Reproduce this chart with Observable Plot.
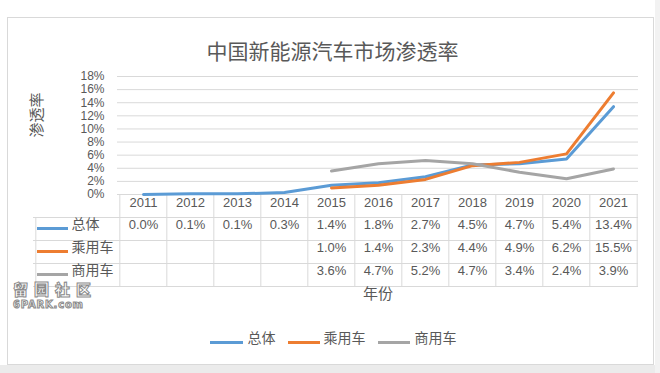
<!DOCTYPE html>
<html><head><meta charset="utf-8">
<script src="https://cdn.jsdelivr.net/npm/d3@7"></script>
<script src="https://cdn.jsdelivr.net/npm/@observablehq/plot@0.6"></script>
<style>
html,body{margin:0;padding:0;background:#fff;}
#wrap{position:relative;width:660px;height:373px;overflow:hidden;background:#fff;}
#frame{position:absolute;left:7px;top:17px;width:645px;height:346px;border:1px solid #D9D9D9;pointer-events:none;}
#stripB{position:absolute;left:0;top:365px;width:660px;height:8px;background:#EBEBEB;}
#stripR{position:absolute;left:655px;top:0;width:5px;height:373px;background:#F2F2F2;}
#wm{position:absolute;left:13px;top:281px;font-family:"Noto Sans CJK SC",sans-serif;color:#fff;-webkit-text-stroke:1px #8a8a8a;line-height:1;}
#wm .a{font-size:15px;letter-spacing:6px;font-weight:900;}
#wm .b{font-size:10px;font-weight:900;font-family:"DejaVu Sans",sans-serif;letter-spacing:0.8px;margin-top:4px;}
</style></head><body>
<div id="wrap"><div id="chart"></div><div id="wm"><div class="a">留园社区</div><div class="b">6PARK.com</div></div><div id="frame"></div><div id="stripB"></div><div id="stripR"></div></div>
<script>
const years = [2011, 2012, 2013, 2014, 2015, 2016, 2017, 2018, 2019, 2020, 2021];
const totalValues = [0.0, 0.1, 0.1, 0.3, 1.4, 1.8, 2.7, 4.5, 4.7, 5.4, 13.4];
const subYears = [2015, 2016, 2017, 2018, 2019, 2020, 2021];
const passengerValues = [1.0, 1.4, 2.3, 4.4, 4.9, 6.2, 15.5];
const commercialValues = [3.6, 4.7, 5.2, 4.7, 3.4, 2.4, 3.9];
const seriesNames = ["总体", "乘用车", "商用车"];
const seriesColors = ["#5B9BD5", "#ED7D31", "#A5A5A5"];
const yTicks = [0, 2, 4, 6, 8, 10, 12, 14, 16, 18];
const titleText = "中国新能源汽车市场渗透率";
const yTitle = "渗透率";
const xTitle = "年份";

const W = 660, H = 373, mL = 117, mR = 22, mT = 76, mB = 179;
const plotW = W - mL - mR;
const step = plotW / years.length;
const frameBottom = H - mB;
const textColor = "#595959";
const gridColor = "#D9D9D9";
const FONT = "'Liberation Sans','Noto Sans CJK SC',sans-serif";

const series = [
  years.map((y, i) => ({year: y, v: totalValues[i]})),
  subYears.map((y, i) => ({year: y, v: passengerValues[i]})),
  subYears.map((y, i) => ({year: y, v: commercialValues[i]}))
];

const rowCenters = [228, 251, 274];
const rowBorders = [217, 240, 263, 286];
const legendItems = [
  {x0: 210, x1: 243, tx: 247},
  {x0: 288, x1: 320, tx: 323},
  {x0: 378, x1: 410, tx: 414}
];
const legendY = 342;

const marks = [];
marks.push(Plot.ruleY(yTicks, {stroke: gridColor}));
rowBorders.forEach(b => marks.push(Plot.ruleY([0], {dy: b - frameBottom, insetLeft: -84, stroke: gridColor})));
marks.push(Plot.ruleX(years, {x: d => d, dx: -step / 2, insetTop: frameBottom - mT, insetBottom: -(rowBorders[3] - frameBottom), stroke: gridColor}));
marks.push(Plot.ruleX([years[years.length - 1]], {x: d => d, dx: step / 2, insetTop: frameBottom - mT, insetBottom: -(rowBorders[3] - frameBottom), stroke: gridColor}));
marks.push(Plot.ruleX([years[0]], {x: d => d, dx: -step / 2 - 84, insetTop: rowBorders[0] - mT, insetBottom: -(rowBorders[3] - frameBottom), stroke: gridColor}));
marks.push(Plot.text(years, {x: d => d, text: d => String(d), frameAnchor: "bottom", dy: 206 - frameBottom, fill: textColor, fontSize: 13}));
series.forEach((s, k) => {
  marks.push(Plot.text(s, {x: "year", text: d => d.v.toFixed(1) + "%", frameAnchor: "bottom", dy: rowCenters[k] - frameBottom, fill: textColor, fontSize: 13}));
  marks.push(Plot.ruleY([0], {dy: rowCenters[k] - frameBottom, insetLeft: 37 - mL, insetRight: (W - mR) - 68, stroke: seriesColors[k], strokeWidth: 3}));
  marks.push(Plot.text([seriesNames[k]], {frameAnchor: "bottom-left", dx: 71 - mL, dy: rowCenters[k] - frameBottom, textAnchor: "start", fill: textColor, fontSize: 14}));
});
series.forEach((s, k) => {
  marks.push(Plot.line(s, {x: "year", y: "v", stroke: seriesColors[k], strokeWidth: 3, strokeLinejoin: "round", strokeLinecap: "round"}));
});
marks.push(Plot.text([titleText], {frameAnchor: "top", dx: 332 - (mL + plotW / 2), dy: 44 - mT, fill: textColor, fontSize: 21}));
marks.push(Plot.text([yTitle], {frameAnchor: "left", dx: 37 - mL, dy: 2, rotate: -90, fill: textColor, fontSize: 15}));
marks.push(Plot.text([xTitle], {frameAnchor: "bottom", dy: 298 - frameBottom, fill: textColor, fontSize: 15}));
legendItems.forEach((it, k) => {
  marks.push(Plot.ruleY([0], {dy: legendY - frameBottom, insetLeft: it.x0 - mL, insetRight: (W - mR) - it.x1, stroke: seriesColors[k], strokeWidth: 3}));
  marks.push(Plot.text([seriesNames[k]], {frameAnchor: "bottom-left", dx: it.tx - mL, dy: legendY - frameBottom, textAnchor: "start", fill: textColor, fontSize: 14}));
});

const chart = Plot.plot({
  width: W, height: H,
  marginLeft: mL, marginRight: mR, marginTop: mT, marginBottom: mB,
  style: {fontFamily: FONT, fontSize: "12px", color: textColor, background: "transparent"},
  x: {type: "point", domain: years, padding: 0.5, axis: null},
  y: {domain: [0, 18], ticks: yTicks, tickFormat: d => d + "%", tickSize: 0, tickPadding: 13, label: null},
  marks
});
document.getElementById("chart").appendChild(chart);
</script>
</body></html>
